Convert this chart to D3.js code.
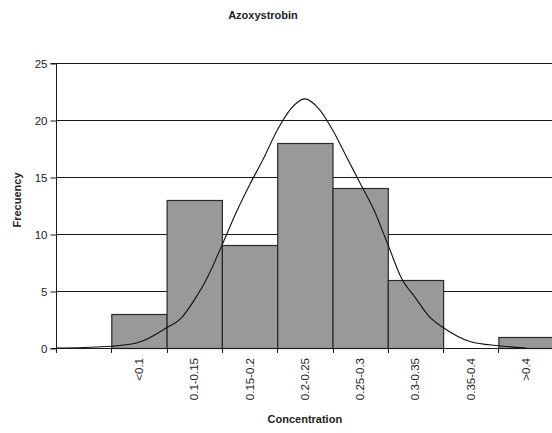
<!DOCTYPE html>
<html>
<head>
<meta charset="utf-8">
<script src="https://cdn.jsdelivr.net/npm/d3@7"></script>
<style>
  html, body { margin: 0; padding: 0; background: #fff; }
  svg { display: block; font-family: "Liberation Sans", Arial, sans-serif; }
</style>
</head>
<body>
<svg id="chart" width="552" height="433"></svg>
<script>
// ---- data ----
const categories = ["", "<0.1", "0.1-0.15", "0.15-0.2", "0.2-0.25", "0.25-0.3", "0.3-0.35", "0.35-0.4", ">0.4"];
const frequencies = [null, 3, 13, 9, 18, 14, 6, 0, 1];
const yTicks = [0, 5, 10, 15, 20, 25];
// fitted curve: position in category-slot units (0..9) and value
const curvePos = [0, 0.5, 1, 1.5, 2, 2.25, 2.5, 2.75, 3, 3.25, 3.5, 3.75, 4, 4.25, 4.5, 4.75, 5, 5.25, 5.5, 5.75, 6, 6.25, 6.5, 6.75, 7, 7.5, 8, 8.5];
const curveVals = [0, 0.05, 0.15, 0.5, 1.78, 2.55, 4.2, 6.3, 9.0, 11.8, 14.3, 16.6, 19.1, 21.0, 21.85, 21.0, 19.15, 16.8, 14.45, 12.1, 9.1, 6.1, 4.4, 2.75, 1.8, 0.55, 0.2, 0.0];

const chartTitle = "Azoxystrobin";
const xTitle = "Concentration";
const yTitle = "Frecuency";

(function () {
// ---- layout ----
const svg = d3.select("#chart");
const pLeft = 56, pRight = 553.7, pTop = 63, pBottom = 348;

const x = d3.scaleBand().domain(categories).range([pLeft, pRight]).paddingInner(0).paddingOuter(0);
const xc = d3.scaleLinear().domain([0, categories.length]).range([pLeft, pRight]);
const y = d3.scaleLinear().domain([0, 25]).range([pBottom, pTop]);

// gridlines
svg.append("g").selectAll("line").data(yTicks.filter(d => d > 0)).join("line")
  .attr("x1", pLeft).attr("x2", 552)
  .attr("y1", d => Math.round(y(d)) + 0.5).attr("y2", d => Math.round(y(d)) + 0.5)
  .attr("stroke", "#1a1a1a").attr("stroke-width", 1);

// bars
const barData = categories.map((c, i) => ({c, v: frequencies[i]})).filter(d => d.v);
svg.append("g").selectAll("rect").data(barData).join("rect")
  .attr("x", d => x(d.c) + 0.5)
  .attr("y", d => Math.round(y(d.v)) + 0.5)
  .attr("width", x.bandwidth())
  .attr("height", d => Math.round(y(0)) - Math.round(y(d.v)))
  .attr("fill", "#999999")
  .attr("stroke", "#2a2a2a").attr("stroke-width", 1.2);

// curve
const pts = curvePos.map((p, i) => [xc(p), y(curveVals[i])]);
svg.append("path").datum(pts)
  .attr("d", d3.line().curve(d3.curveMonotoneX))
  .attr("fill", "none").attr("stroke", "#111").attr("stroke-width", 1.1);

// y axis
const yAxis = d3.axisLeft(y).tickValues(yTicks).tickSize(6).tickPadding(3);
const gy = svg.append("g").attr("transform", `translate(${pLeft + 0.5},0.5)`).call(yAxis);
gy.select(".domain").attr("stroke", "#1a1a1a").attr("d", `M-6,${pTop}H0V${pBottom}H-6`);
gy.selectAll(".tick line").attr("stroke", "#1a1a1a");
gy.selectAll(".tick text").attr("font-size", 11.5).attr("fill", "#222").attr("font-family", "Liberation Sans, Arial, sans-serif");

// x axis line with ticks at slot boundaries
const gx = svg.append("g");
gx.append("line").attr("x1", pLeft).attr("x2", 552).attr("y1", pBottom + 0.5).attr("y2", pBottom + 0.5)
  .attr("stroke", "#1a1a1a").attr("stroke-width", 1.2);
gx.selectAll("line.tk").data(d3.range(0, categories.length + 1)).join("line").attr("class", "tk")
  .attr("x1", d => Math.round(xc(d)) + 0.5).attr("x2", d => Math.round(xc(d)) + 0.5)
  .attr("y1", pBottom).attr("y2", pBottom + 5)
  .attr("stroke", "#1a1a1a");
gx.selectAll("text").data(categories.filter(c => c)).join("text")
  .attr("transform", d => `translate(${x(d) + x.bandwidth() / 2 + 4},${pBottom + 10}) rotate(-90)`)
  .attr("text-anchor", "end")
  .attr("font-size", 11.5).attr("fill", "#222")
  .text(d => d);

// titles
svg.append("text").attr("x", 263).attr("y", 19).attr("text-anchor", "middle")
  .attr("font-size", 11).attr("font-weight", "bold").attr("fill", "#222").text(chartTitle);
svg.append("text").attr("x", (pLeft + pRight) / 2).attr("y", 423).attr("text-anchor", "middle")
  .attr("font-size", 11).attr("font-weight", "bold").attr("fill", "#222").text(xTitle);
svg.append("text").attr("transform", `translate(21,200) rotate(-90)`).attr("text-anchor", "middle")
  .attr("font-size", 11).attr("font-weight", "bold").attr("fill", "#222").text(yTitle);
})();
</script>
</body>
</html>
